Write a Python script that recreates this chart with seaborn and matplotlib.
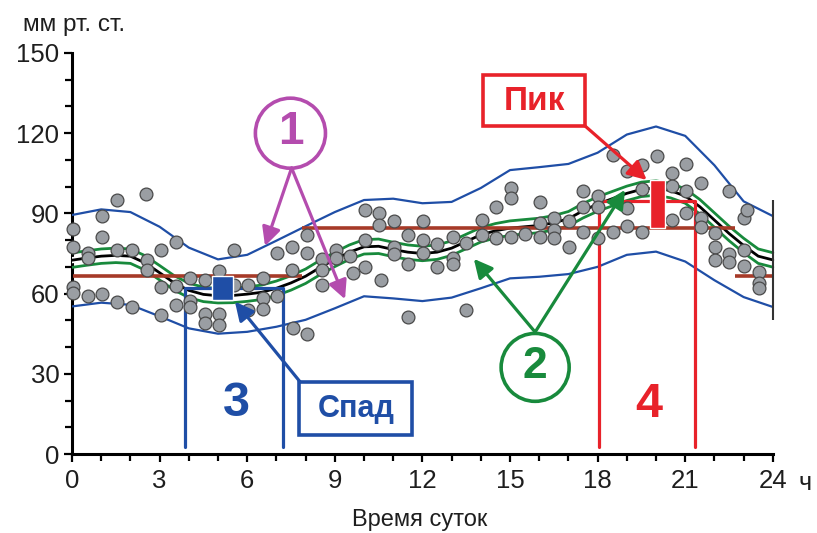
import matplotlib
matplotlib.use('Agg')
import matplotlib.pyplot as plt
import matplotlib.patheffects as pe
from matplotlib.patches import Ellipse, Rectangle
import numpy as np
import pandas as pd
import seaborn as sns

# observed readings (hour of day, mm Hg)
obs_hour = [0.02, 0.02, 0.02, 0.02, 0.54, 0.54, 0.56, 1.04, 1.04, 1.02,
            1.55, 1.55, 1.55, 2.04, 2.04, 2.55, 2.56, 2.56, 3.04, 3.04, 3.04,
            3.55, 3.55, 3.55, 4.04, 4.04, 4.04, 4.54, 4.54, 4.54, 5.03, 5.03, 5.03,
            5.55, 5.55, 6.04, 6.04, 6.55, 6.55, 6.55, 7.03, 7.03,
            7.52, 7.52, 7.56, 8.04, 8.04, 8.06, 8.55, 8.55, 8.55, 9.04, 9.04,
            9.52, 9.63, 10.05, 10.05, 10.05, 10.52, 10.52, 10.57,
            11.03, 11.03, 11.03, 11.52, 11.52, 11.52, 12.01, 12.01, 12.01,
            12.51, 12.51, 13.04, 13.04, 13.04, 13.5, 13.5, 14.03, 14.03,
            14.52, 14.52, 15.02, 15.02, 15.02, 15.51, 16.02, 16.02, 16.02,
            16.51, 16.51, 16.51, 17.02, 17.02, 17.51, 17.51, 17.51,
            18.02, 18.02, 18.02, 18.53, 18.53, 19.02, 19.02, 19.02,
            19.52, 19.52, 19.52, 20.03, 20.54, 20.54, 20.54,
            21.03, 21.03, 21.03, 21.53, 21.53, 21.53, 22.02, 22.02, 22.02,
            22.51, 22.51, 22.51, 23.01, 23.01, 23.01, 23.13, 23.52, 23.52, 23.52]
obs_mmhg = [84, 77.4, 62.4, 60.4, 75.3, 73.5, 59.1, 89, 81.3, 59.9,
            95, 76.3, 56.9, 76.3, 54.9, 97.3, 72.6, 68.8, 76.3, 62.4, 51.9,
            79.4, 63.0, 55.7, 65.7, 57.4, 55.0, 65.0, 52.4, 49.1, 68.4, 52.4, 48.3,
            76.3, 63.2, 63.2, 54.0, 65.9, 58.2, 54.3, 75.3, 59.0,
            77.3, 68.8, 47.0, 82.0, 75.3, 45.0, 72.8, 69.0, 63.2, 76.3, 73.2,
            74.1, 67.8, 91.2, 80.2, 70.1, 90.3, 85.7, 65.0,
            87.3, 77.3, 75.0, 82.0, 71.2, 51.3, 87.3, 80.1, 75.3,
            78.6, 70.1, 81.3, 73.2, 71.1, 79.0, 53.9, 87.5, 81.9,
            92.3, 80.7, 99.4, 95.7, 81.3, 82.3, 94.4, 86.3, 81.3,
            88.1, 83.8, 80.7, 87.3, 77.6, 98.3, 92.3, 83.2,
            96.5, 92.3, 80.7, 111.9, 83.2, 106.0, 91.9, 85.1,
            108.1, 99.0, 83.2, 111.3, 105.2, 100.1, 87.4,
            108.3, 98.2, 90.2, 101.3, 88.1, 84.8, 82.8, 77.6, 72.6,
            98.2, 75.0, 71.9, 88.1, 76.3, 70.3, 91.3, 68.2, 63.8, 62.0]

# fitted curve and its confidence band (half-hour steps)
fit_hour = [h / 2 for h in range(49)]
fit_mid = [72.5, 73.3, 74.0, 74.3, 74.0, 71.5, 67.8, 64.0, 61.2, 59.7,
           59.2, 59.3, 59.8, 60.5, 62.0, 64.0, 66.5, 69.8, 72.8, 75.5,
           77.5, 77.7, 76.5, 75.5, 75.0, 75.5, 77.0, 79.5, 82.0, 83.5,
           84.5, 85.0, 85.5, 86.5, 88.0, 91.0, 93.5, 95.5, 97.5, 99.0,
           99.5, 98.5, 96.5, 92.5, 87.5, 82.5, 78.0, 74.0, 72.6]
ci_upper = [75.2, 76.0, 76.7, 77.0, 76.7, 74.2, 70.5, 66.7, 63.9, 62.4,
            61.9, 62.0, 62.5, 63.2, 64.7, 66.7, 69.2, 72.5, 75.5, 78.2,
            80.2, 80.4, 79.2, 78.2, 77.7, 78.2, 79.7, 82.2, 84.7, 86.2,
            87.2, 87.7, 88.2, 89.2, 90.7, 93.7, 96.2, 98.2, 100.2, 101.7,
            102.2, 101.2, 99.2, 95.2, 90.2, 85.2, 80.7, 76.7, 75.3]
ci_lower = [69.8, 70.6, 71.3, 71.6, 71.3, 68.8, 65.1, 61.3, 58.5, 57.0,
            56.5, 56.6, 57.1, 57.8, 59.3, 61.3, 63.8, 67.1, 70.1, 72.8,
            74.8, 75.0, 73.8, 72.8, 72.3, 72.8, 74.3, 76.8, 79.3, 80.8,
            81.8, 82.3, 82.8, 83.8, 85.3, 88.3, 90.8, 92.8, 94.8, 96.3,
            96.8, 95.8, 93.8, 89.8, 84.8, 79.8, 75.3, 71.3, 69.9]

# prediction band (hourly)
pi_hour = list(range(25))
pi_upper = [89.4, 91.5, 90.5, 85.0, 77.2, 72.8, 74.5, 79.8, 85.2, 90.5,
            95.0, 95.5, 93.8, 94.3, 99.5, 106.2, 107.3, 108.5, 112.7, 119.5,
            122.5, 119.0, 108.0, 94.5, 89.0]
pi_lower = [55.2, 56.6, 55.8, 51.5, 47.0, 45.0, 45.7, 47.6, 50.2, 54.5,
            59.0, 58.2, 57.2, 58.5, 62.0, 65.7, 66.3, 67.3, 70.0, 74.5,
            75.7, 72.0, 65.0, 58.7, 55.0]

# night / day means
mean_start = [0.03, 7.87, 22.7]
mean_end = [7.87, 22.7, 24.0]
mean_level = [66.7, 84.4, 66.7]

# trough and peak
trough_hour, trough_low, trough_high = 5.14, 57.6, 66.6
peak_hour, peak_low, peak_high = 20.05, 84.4, 102.5

x_ticks = [0, 3, 6, 9, 12, 15, 18, 21, 24]
y_ticks = [0, 30, 60, 90, 120, 150]

BLUE = '#1f4ea6'
GREEN = '#188a3c'
RED = '#e8222a'
BROWN = '#a63a28'
PURPLE = '#b44cae'
INK = '#1e1e1e'

sns.set_style('ticks')
plt.rcParams['font.family'] = ['Liberation Sans', 'DejaVu Sans']

fig = plt.figure(figsize=(8.17, 5.33), dpi=100)
ax = fig.add_axes([72 / 817, 79 / 533, 709.6 / 817, 401 / 533])

obs = pd.DataFrame({'hour': obs_hour, 'mmhg': obs_mmhg})
fit = pd.DataFrame({'hour': fit_hour, 'mid': fit_mid, 'up': ci_upper, 'lo': ci_lower})
pi = pd.DataFrame({'hour': pi_hour, 'up': pi_upper, 'lo': pi_lower})

for col in ['up', 'lo']:
    sns.lineplot(data=pi, x='hour', y=col, ax=ax, color=BLUE, lw=1.6,
                 estimator=None, sort=False, zorder=3)
    sns.lineplot(data=fit, x='hour', y=col, ax=ax, color=GREEN, lw=2.0,
                 estimator=None, sort=False, zorder=4)
sns.lineplot(data=fit, x='hour', y='mid', ax=ax, color='black', lw=2.0,
             estimator=None, sort=False, zorder=5,
             path_effects=[pe.Stroke(linewidth=4.5, foreground='white'), pe.Normal()])

ax.hlines(mean_level, mean_start, mean_end, color=BROWN, lw=2.6, zorder=6)

sns.scatterplot(data=obs, x='hour', y='mmhg', ax=ax, s=85, color='#9a9ea3',
                edgecolor='#4a4a4a', linewidth=0.9, zorder=7, clip_on=False)

ax.bar(trough_hour, trough_high - trough_low, bottom=trough_low, width=0.72,
       color=BLUE, zorder=8)
ax.bar(peak_hour, peak_high - peak_low, bottom=peak_low, width=0.52,
       color=RED, zorder=8)

# brackets for trough (3) and peak (4)
ax.plot([3.87, 3.87, 7.24, 7.24], [2.7, 62, 62, 2.7], color=BLUE, lw=2.3, zorder=6)
ax.plot([18.05, 18.05, 21.34, 21.34], [2.7, 94.6, 94.6, 2.7], color=RED, lw=2.3, zorder=6)
ax.text(5.62, 19, '3', color=BLUE, fontsize=35, fontweight='bold', ha='center', va='center')
ax.text(19.75, 18.5, '4', color=RED, fontsize=35, fontweight='bold', ha='center', va='center')

arrow_kw = dict(arrowstyle='-|>,head_length=0.8,head_width=0.4', mutation_scale=14,
                lw=2.3, shrinkA=0, shrinkB=0)

# "Спад" box
ax.add_patch(Rectangle((7.77, 7.1), 3.87, 19.9, fill=False, ec=BLUE, lw=2.6, zorder=9))
ax.text(9.72, 17.0, 'Спад', color=BLUE, fontsize=22, fontweight='bold',
        ha='center', va='center', zorder=9)
ax.annotate('', xy=(5.58, 57.0), xytext=(7.81, 27.0),
            arrowprops=dict(color=BLUE, **arrow_kw), zorder=9)

# "Пик" box
ax.add_patch(Rectangle((14.08, 122.7), 3.49, 19.2, fill=False, ec=RED, lw=2.6,
                       zorder=9, clip_on=False))
ax.text(15.82, 132.0, 'Пик', color=RED, fontsize=24, fontweight='bold',
        ha='center', va='center', zorder=9)
ax.annotate('', xy=(19.68, 102.5), xytext=(17.57, 122.7),
            arrowprops=dict(color=RED, **arrow_kw), zorder=9)

# circled 1 -> prediction band
ax.add_patch(Ellipse((7.48, 120.0), 2.40, 26.2, fill=False, ec=PURPLE, lw=2.6, zorder=9))
ax.text(7.48, 120.5, '1', color=PURPLE, fontsize=33, fontweight='heavy',
        ha='center', va='center', zorder=9)
for tip in [(6.61, 77.8), (9.35, 57.9)]:
    ax.annotate('', xy=tip, xytext=(7.52, 107.0),
                arrowprops=dict(color=PURPLE, **arrow_kw), zorder=9)

# circled 2 -> confidence band
ax.add_patch(Ellipse((15.86, 32.4), 2.33, 25.4, fill=False, ec=GREEN, lw=2.6, zorder=9))
ax.text(15.86, 32.8, '2', color=GREEN, fontsize=32, fontweight='heavy',
        ha='center', va='center', zorder=9)
for tip in [(13.76, 73.0), (18.94, 98.8)]:
    ax.annotate('', xy=tip, xytext=(15.86, 45.6),
                arrowprops=dict(color=GREEN, **arrow_kw), zorder=9)

ax.vlines(24, 50, 95, color='#333333', lw=1.5, zorder=6)

ax.set_xlim(0, 24.3)
ax.set_ylim(0, 150)
ax.set_xticks(x_ticks)
ax.set_xticks(range(25), minor=True)
ax.set_yticks(y_ticks)
ax.set_yticks(range(0, 151, 10), minor=True)
ax.tick_params(axis='both', which='major', labelsize=18.5, length=6, width=1.6,
               color='black', labelcolor=INK)
ax.tick_params(axis='both', which='minor', length=5, width=1.6, color='black')
ax.tick_params(axis='x', pad=5)
ax.tick_params(axis='y', pad=3)
for side in ['top', 'right']:
    ax.spines[side].set_visible(False)
for side in ['left', 'bottom']:
    ax.spines[side].set_linewidth(2.2)
    ax.spines[side].set_color('black')
ax.spines['left'].set_bounds(0, 150)
ax.spines['bottom'].set_bounds(0, 24)

ax.set_ylabel('')
ax.set_xlabel('Время суток', fontsize=17, color=INK)
ax.xaxis.set_label_coords((420 - 72) / 709.6, (454 - 520) / 401)
ax.xaxis.label.set_va('center')
ax.text(25.1, -10.8, 'ч', fontsize=18, color=INK, ha='center', va='center',
        clip_on=False)
fig.text(23 / 817, 1 - 31 / 533, 'мм рт. ст.', fontsize=17.5, color=INK,
         ha='left', va='baseline')

fig.savefig('out.png', dpi=100)
